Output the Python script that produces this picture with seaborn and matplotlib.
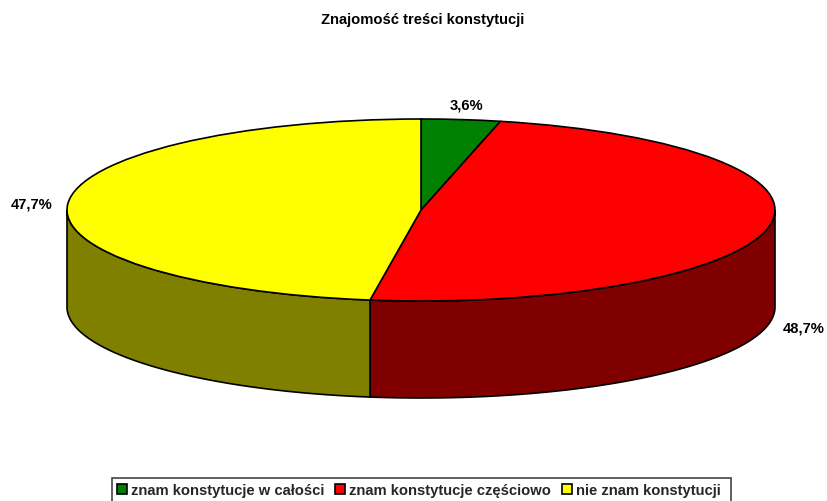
import numpy as np
import matplotlib
matplotlib.use("Agg")
import matplotlib.pyplot as plt
from matplotlib.patches import Rectangle
import seaborn as sns

title = "Znajomość treści konstytucji"
categories = ["znam konstytucje w całości", "znam konstytucje częściowo", "nie znam konstytucji"]
values = [3.6, 48.7, 47.7]
labels = ["3,6%", "48,7%", "47,7%"]
top_colors = ["#008000", "#FF0000", "#FFFF00"]
side_colors = ["#004000", "#800000", "#808000"]

sns.set_theme(style="white")
plt.rcParams["font.family"] = ["Liberation Sans", "DejaVu Sans"]
plt.rcParams["font.weight"] = "bold"

W, H = 827, 502
cx, cy, rx, ry, depth = 421, 211, 354, 91, 97
fig = plt.figure(figsize=(W / 100, H / 100), dpi=100, facecolor="white")
ax = fig.add_axes([0, 0, 1, 1])
palette = sns.color_palette(top_colors)

wedges, _ = ax.pie(values, colors=palette, startangle=90, counterclock=False,
                   wedgeprops=dict(edgecolor="black", linewidth=1.2, zorder=3))
ax.set_aspect("auto")
ax.set_xlim(-cx / rx, (W - cx) / rx)
ax.set_ylim((cy - H) / ry, cy / ry)
ax.axis("off")

# side wall: front half of the disc, split at slice boundaries
d = depth / ry
shares = np.array(values) / sum(values) * 360
ends = np.cumsum(shares)
starts = ends - shares
for s, e, col in zip(starts, ends, side_colors):
    a, b = max(s, 90), min(e, 270)
    if b <= a:
        continue
    t = np.radians(np.linspace(a, b, 120))
    x, y = np.sin(t), np.cos(t)
    ax.fill(np.r_[x, x[::-1]], np.r_[y, y[::-1] - d], facecolor=col,
            edgecolor="black", linewidth=1.2, zorder=2)

text_kw = dict(fontsize=10.6, fontweight="bold", color="black", ha="center", va="center")
pos = [(466, 106), (804, 329), (32, 205)]
for (px, py), lab in zip(pos, labels):
    ax.text((px - cx) / rx, (cy - py) / ry, lab, **text_kw)
fig.text(423 / W, 1 - 20 / H, title, ha="center", va="center", fontsize=10.6, fontweight="bold", color="black")

# legend frame runs off the bottom edge of the canvas, as in the source
fig.add_artist(Rectangle((112 / W, 1 - 504 / H), (731 - 112) / W, 25 / H, transform=fig.transFigure,
                         facecolor="white", edgecolor="#444444", linewidth=1.2, zorder=-1))
leg = ax.legend(wedges, categories, loc="center left", bbox_to_anchor=(117 / W, 1 - 491 / H),
                bbox_transform=fig.transFigure, ncols=3, frameon=False, fontsize=10.65,
                handlelength=0.65, handleheight=0.65, handletextpad=0.27, columnspacing=0.76,
                borderpad=0, borderaxespad=0)
leg.set_zorder(5)
fig.savefig("out.png", dpi=100)
